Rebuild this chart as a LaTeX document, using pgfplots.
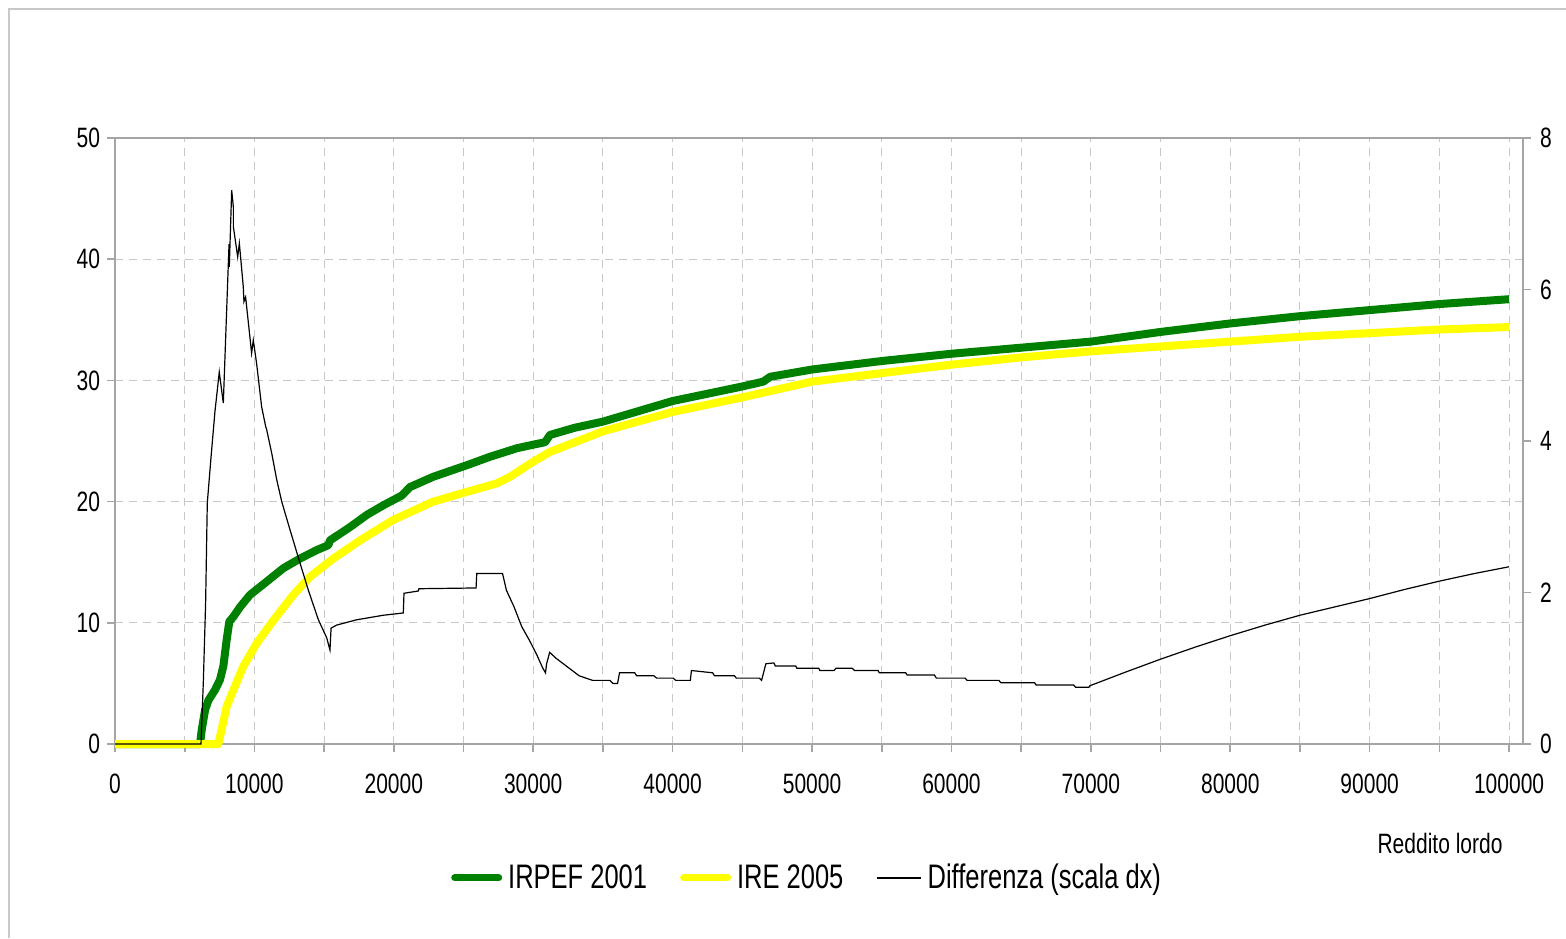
\documentclass[border=0pt]{standalone}
\usepackage{fontspec}
\setmainfont{Liberation Sans}[FakeStretch=0.75]
\usepackage{pgfplots}
\pgfplotsset{compat=1.18}
\definecolor{irpef}{RGB}{0,128,0}
\definecolor{ire}{RGB}{255,255,0}
\definecolor{gridgray}{RGB}{200,200,200}
\definecolor{axgray}{RGB}{165,165,165}
\definecolor{framegray}{RGB}{200,200,200}
\pgfplotsset{legend image code/.code={\draw[#1] (0pt,0pt) -- (22pt,0pt);}}
\pgfplotstableread{
x y
0 0
6100 0
6220 1.15
6460 2.8
6700 3.6
7170 4.45
7530 5.3
7770 6.4
8010 8.6
8200 10.1
8490 10.5
8970 11.3
9680 12.3
10880 13.4
12070 14.5
13270 15.3
14470 16.0
15300 16.4
15420 16.8
16860 17.9
18060 18.9
19250 19.7
20570 20.5
21160 21.2
22830 22.05
25230 23.0
26900 23.7
28820 24.4
30010 24.7
30850 24.9
31200 25.5
33000 26.1
35000 26.6
40000 28.3
45000 29.5
46500 29.9
47000 30.3
50000 30.9
55000 31.6
60000 32.2
65000 32.7
70000 33.2
75000 34.0
80000 34.7
85000 35.3
90000 35.8
95000 36.3
100000 36.7
}\irpef
\pgfplotstableread{
x y
0 0
7410 0
7650 1.2
8010 3.1
8490 4.45
9200 6.4
10160 8.3
11360 10.2
12790 12.3
13990 13.8
15660 15.3
17580 16.8
19970 18.5
22830 20.0
25230 20.8
27380 21.5
28340 22.05
30010 23.3
31200 24.1
35000 25.8
40000 27.4
45000 28.6
50000 29.9
55000 30.6
60000 31.3
65000 31.9
70000 32.4
75000 32.8
80000 33.2
85000 33.6
90000 33.9
95000 34.2
100000 34.4
}\ire
\pgfplotstableread{
x y
0 0
6170 0
6340 0.84
6500 1.86
6620 3.18
6890 3.79
7170 4.39
7480 4.91
7770 4.5
8180 6.6
8200 6.3
8250 6.6
8370 7.31
8490 7.09
8490 6.83
8800 6.43
8920 6.61
9200 6.04
9250 5.84
9370 5.9
9800 5.16
9920 5.33
10160 5.02
10520 4.45
10810 4.19
10880 4.15
11240 3.84
11600 3.49
11960 3.2
12550 2.83
13270 2.39
13870 2.03
14590 1.64
15190 1.40
15420 1.24
15500 1.53
15900 1.57
17340 1.64
19250 1.70
20680 1.73
20730 1.99
21760 2.02
21800 2.05
25900 2.06
25950 2.25
27800 2.25
28076 2.03
28626 1.81
29175 1.55
29725 1.37
30275 1.17
30690 1.0
30880 0.94
30960 1.06
31180 1.21
31650 1.13
33300 0.9
34260 0.84
35500 0.84
35720 0.80
36050 0.80
36190 0.94
37280 0.94
37420 0.90
38660 0.90
38850 0.87
40030 0.87
40230 0.84
41270 0.84
41350 0.97
42870 0.94
43000 0.90
44430 0.90
44570 0.87
46220 0.87
46380 0.84
46690 1.06
47260 1.07
47370 1.03
48830 1.03
48910 1.0
50480 1.0
50560 0.97
51580 0.97
51720 1.0
52880 1.0
53040 0.97
54740 0.97
54820 0.94
56720 0.94
56830 0.91
58780 0.91
58920 0.87
60980 0.87
61120 0.84
63400 0.84
63540 0.81
65960 0.81
66070 0.78
68760 0.78
68900 0.75
69860 0.75
69940 0.77
72500 0.95
75000 1.12
77500 1.28
80000 1.43
82500 1.57
85000 1.70
87500 1.81
90000 1.92
92500 2.04
95000 2.15
97500 2.25
100000 2.34
}\diff
\begin{document}
\begin{tikzpicture}
\path[use as bounding box] (0,0) rectangle (783pt,469pt);
\draw[framegray, line width=0.8pt] (4.5pt,0) -- (4.5pt,464.5pt) -- (783pt,464.5pt);
\pgfplotsset{common/.style={
  at={(57.5pt,97pt)}, anchor=south west,
  scale only axis, width=704pt, height=303pt,
  xmin=0, xmax=101000,
  scaled ticks=false,
  axis line style={draw=axgray, line width=1pt},
  tick style={draw=axgray, line width=0.8pt},
  tick align=outside, major tick length=4pt,
  ticklabel style={font=\fontsize{14}{16}\selectfont},
  /pgf/number format/assume math mode=true,
  clip=false,
}}
\begin{axis}[common,
  ymin=0, ymax=50, ytick={0,10,...,50},
  xtick={0,5000,...,100000},
  xticklabels={0,,10000,,20000,,30000,,40000,,50000,,60000,,70000,,80000,,90000,,100000},
  xtick pos=lower, ytick pos=left,
  grid=major, grid style={draw=gridgray, line width=0.5pt, dash pattern=on 4pt off 3pt},
  yticklabel style={xshift=0pt},
  xticklabel style={yshift=-7.5pt},
]
\addplot[irpef, line width=4pt, line join=round] table[x=x,y=y] {\irpef};
\addplot[ire, line width=4pt, line join=round] table[x=x,y=y] {\ire};
\end{axis}
\begin{axis}[common,
  ymin=0, ymax=8, ytick={0,2,...,8},
  axis x line=none, axis y line*=right,
  yticklabel style={xshift=1pt},
  legend columns=3,
  legend style={draw=none, fill=none, inner sep=0pt, at={(axis description cs:0.2385,-0.221)}, anchor=west,
    font=\fontsize{17}{20}\selectfont,
    nodes={inner sep=0pt},
    /tikz/every odd column/.append style={column sep=3pt},
    /tikz/every even column/.append style={column sep=16.5pt}},
  legend cell align=left,
]
\addlegendimage{irpef, line width=3.5pt, line cap=round}
\addlegendentry{IRPEF 2001}
\addlegendimage{ire, line width=3.5pt, line cap=round}
\addlegendentry{IRE 2005}
\addplot[black, line width=0.6pt] table[x=x,y=y] {\diff};
\addlegendentry{Differenza (scala dx)}
\end{axis}
\node[font=\fontsize{14}{16}\selectfont, anchor=center] at (720pt,47.5pt) {Reddito lordo};
\end{tikzpicture}
\end{document}
